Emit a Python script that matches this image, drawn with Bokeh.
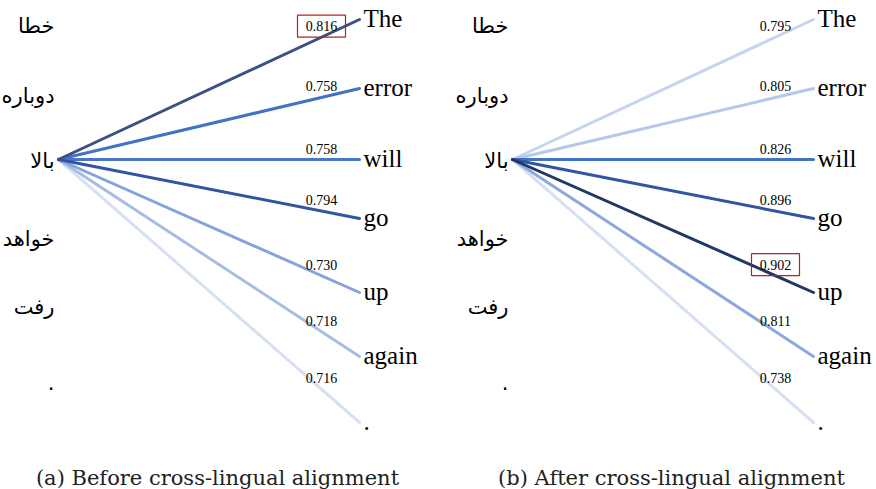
from bokeh.plotting import figure
from bokeh.models import Range1d
from bokeh.core.properties import value
from bokeh.embed import file_html
from bokeh.resources import INLINE

# ---- data ----
persian_tokens = ["خطا", "دوباره", "بالا", "خواهد", "رفت", "."]
english_tokens = ["The", "error", "will", "go", "up", "again", "."]
source_index = 2  # the Persian word whose alignments are shown
before_scores = [0.816, 0.758, 0.758, 0.794, 0.730, 0.718, 0.716]
after_scores = [0.795, 0.805, 0.826, 0.896, 0.902, 0.811, 0.738]
captions = ["(a) Before cross-lingual alignment", "(b) After cross-lingual alignment"]

# ---- styles ----
before_colors = ["#3b5182", "#4472c4", "#4a75c6", "#2f55a3", "#86a3dc", "#a8bce6", "#d6e0f3"]
after_colors = ["#c6d4ef", "#b6c8ea", "#4472c4", "#2f55a3", "#1f3864", "#8ca8df", "#d6e0f3"]

W, H = 876, 489
M = 0  # observed page offset
# layout (page coordinates)
ORIGIN_X, ORIGIN_Y = 58, 159
END_X = 359
EN_X = 363
EN_Y = [19, 88, 159, 218, 292, 356, 422]
FA_X = 54
FA_Y = [25, 95, 160, 238, 306, 381]
LABEL_X = 321
CAP_X, CAP_Y = 217, 477
PANEL_DX = 454

p = figure(width=W, height=H, output_backend="svg", toolbar_location=None,
           x_range=Range1d(0, W), y_range=Range1d(H, 0), min_border=0)
p.axis.visible = False
p.grid.visible = False
p.outline_line_color = None
p.background_fill_color = "white"


def draw_panel(dx, scores, colors, caption):
    ox, oy = ORIGIN_X + dx - M, ORIGIN_Y - M
    ex = END_X + dx - M
    eys = [y - M for y in EN_Y]
    # draw lighter lines first so darker ones sit on top
    order = sorted(range(len(scores)), key=lambda i: scores[i])
    for i in order:
        p.segment(x0=[ox], y0=[oy], x1=[ex], y1=[eys[i]], line_color=colors[i],
                  line_width=3, line_cap="round")
    # English tokens
    p.text(x=[EN_X + dx - M] * len(english_tokens), y=[y - 1 for y in eys],
           text=english_tokens, text_font=value("Liberation Serif"),
           text_font_size="25px", text_align="left", text_baseline="alphabetic",
           text_color="black")
    # Persian tokens
    p.text(x=[FA_X + dx - M] * len(persian_tokens), y=[y - M for y in FA_Y],
           text=persian_tokens, text_font=value("DejaVu Sans"),
           text_font_size="21px", text_align="right", text_baseline="middle",
           text_color="black")
    # score labels
    lx = LABEL_X + dx - M
    frac = (lx - ox) / (ex - ox)
    lys = [oy + (ey - oy) * frac - 11 for ey in eys]
    labels = ["%.3f" % s for s in scores]
    p.text(x=[lx] * len(scores), y=lys, text=labels,
           text_font=value("Liberation Serif"), text_font_size="14px",
           text_align="center", text_baseline="middle", text_color="black")
    # highlight max score
    k = max(range(len(scores)), key=lambda i: scores[i])
    p.rect(x=[lx], y=[lys[k]], width=48, height=22, width_units="screen",
           height_units="screen", fill_color=None, line_color="#b22222", line_width=1.2)
    # caption
    p.text(x=[CAP_X + dx - M], y=[CAP_Y - M], text=[caption],
           text_font=value("DejaVu Serif"), text_font_size="21px",
           text_align="center", text_baseline="alphabetic", text_color="#222222")


draw_panel(0, before_scores, before_colors, captions[0])
draw_panel(PANEL_DX, after_scores, after_colors, captions[1])

open("out.html", "w").write(file_html(p, INLINE))
